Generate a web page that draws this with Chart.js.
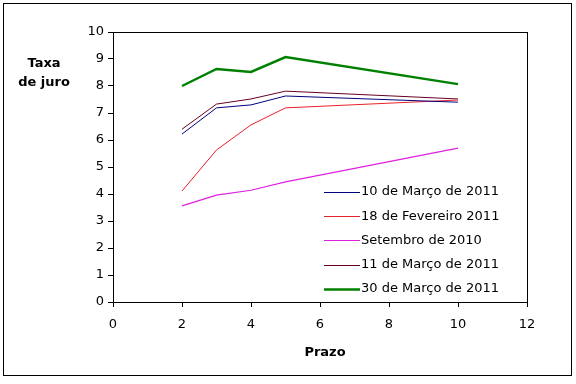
<!DOCTYPE html>
<html>
<head>
<meta charset="utf-8">
<script src="https://cdn.jsdelivr.net/npm/chart.js@4/dist/chart.umd.min.js"></script>
<style>
  html, body { margin: 0; padding: 0; background: #fff; }
  #wrap { width: 576px; height: 384px; position: relative; }
</style>
</head>
<body>
<div id="wrap"><canvas id="c" width="576" height="384"></canvas></div>
<script>
  // prazos (anos)
  var prazos = [2, 3, 4, 5, 10];
  var labels = ["10 de Março de 2011", "18 de Fevereiro 2011", "Setembro de 2010", "11 de Março de 2011", "30 de Março de 2011"];
  var mar10 = [6.22, 7.19, 7.3, 7.63, 7.4];
  var fev18 = [4.11, 5.63, 6.56, 7.19, 7.48];
  var set10 = [3.56, 3.96, 4.14, 4.45, 5.7];
  var mar11 = [6.4, 7.33, 7.52, 7.81, 7.52];
  var mar30 = [8.0, 8.63, 8.52, 9.07, 8.07];
  var xTicks = [0, 2, 4, 6, 8, 10, 12];

  function pts(ys) { return prazos.map(function (x, i) { return { x: x, y: ys[i] }; }); }

  var FONT = "Tahoma, 'DejaVu Sans', Verdana, sans-serif";

  var frame = {
    id: "frame",
    afterDraw: function (chart) {
      var ctx = chart.ctx, a = chart.chartArea;
      var L = Math.round(a.left), R = Math.round(a.right), T = Math.round(a.top), B = Math.round(a.bottom);
      ctx.save();
      ctx.fillStyle = "#000";
      // outer border
      ctx.fillRect(3, 3, 569, 1); ctx.fillRect(3, 375, 569, 1);
      ctx.fillRect(3, 3, 1, 373); ctx.fillRect(571, 3, 1, 373);
      // plot box
      ctx.fillRect(L, T, R - L + 1, 1); ctx.fillRect(L, B, R - L + 1, 1);
      ctx.fillRect(L, T, 1, B - T + 1); ctx.fillRect(R, T, 1, B - T + 1);
      // titles
      ctx.font = "bold 13px " + FONT;
      ctx.textAlign = "center"; ctx.textBaseline = "middle";
      ctx.fillText("Taxa", 44, 64);
      ctx.fillText("de juro", 44, 83);
      ctx.fillText("Prazo", 325, 353);
      // legend inside plot
      var ds = chart.data.datasets;
      ctx.fillStyle = "#fff";
      ctx.fillRect(318, 180, 196, 120);
      ctx.font = "13px " + FONT;
      ctx.textAlign = "left";
      for (var i = 0; i < ds.length; i++) {
        var y = 192 + i * 24.2;
        ctx.strokeStyle = ds[i].borderColor;
        ctx.lineWidth = ds[i].borderWidth;
        ctx.beginPath(); ctx.moveTo(324, Math.round(y) + 0.5); ctx.lineTo(360, Math.round(y) + 0.5); ctx.stroke();
        ctx.fillStyle = "#000";
        ctx.fillText(ds[i].label, 361, y);
      }
      ctx.restore();
    }
  };

  function series(label, data, color, w) {
    return { label: label, data: pts(data), borderColor: color, backgroundColor: color, borderWidth: w, pointRadius: 0, tension: 0, fill: false };
  }

  new Chart(document.getElementById("c"), {
    type: "line",
    data: {
      datasets: [
        series(labels[0], mar10, "#000080", 1),
        series(labels[1], fev18, "#e8202a", 1),
        series(labels[2], set10, "#e020e0", 1.2),
        series(labels[3], mar11, "#660022", 1),
        series(labels[4], mar30, "#008000", 2.5)
      ]
    },
    options: {
      responsive: false,
      animation: false,
      events: [],
      layout: { padding: { top: 32, right: 49, left: 0, bottom: 0 } },
      plugins: { legend: { display: false }, tooltip: { enabled: false } },
      scales: {
        x: {
          type: "linear", min: 0, max: 12,
          afterBuildTicks: function (s) { s.ticks = xTicks.map(function (v) { return { value: v }; }); },
          afterFit: function (s) { s.height = 82; },
          grid: { drawOnChartArea: false, color: "#000", tickLength: 5, tickColor: "#000" },
          border: { display: false },
          ticks: { color: "#000", font: { family: FONT, size: 13 }, padding: 10, maxRotation: 0 }
        },
        y: {
          min: 0, max: 10,
          afterFit: function (s) { s.width = 113; },
          grid: { drawOnChartArea: false, color: "#000", tickLength: 5, tickColor: "#000" },
          border: { display: false },
          ticks: { stepSize: 1, color: "#000", font: { family: FONT, size: 13 }, padding: 4 }
        }
      }
    },
    plugins: [frame]
  });
</script>
</body>
</html>
